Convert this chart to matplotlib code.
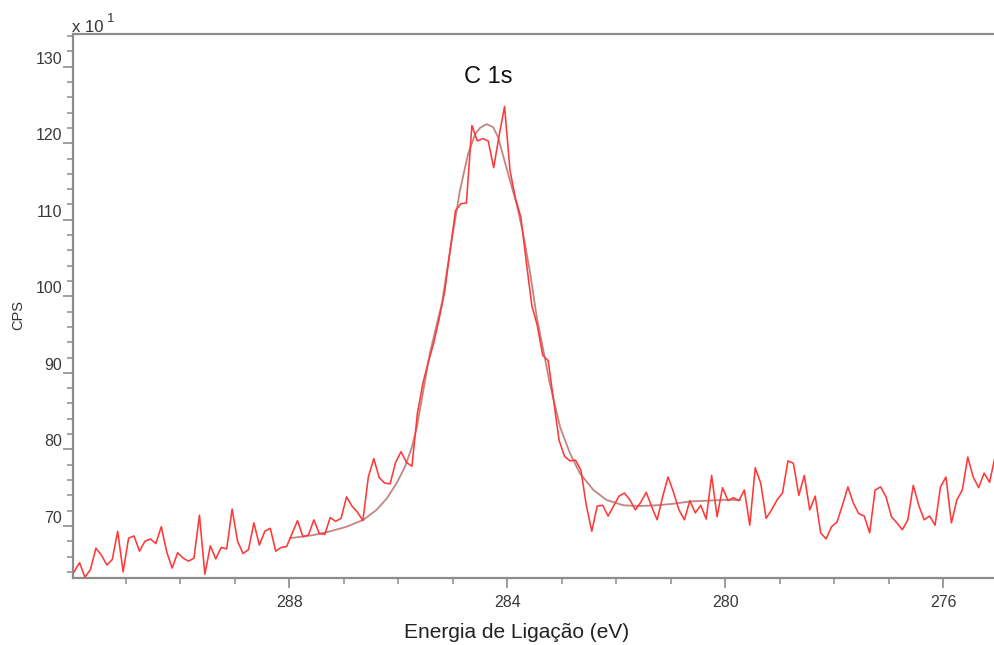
import numpy as np
import matplotlib
matplotlib.use("Agg")
import matplotlib.pyplot as plt
from matplotlib.ticker import MultipleLocator

plt.rcParams['font.family'] = ['Liberation Sans', 'DejaVu Sans']

# Binding energy grid: start and step of the acquired spectrum (eV)
energy_start = 291.95
energy_step = 0.1

# Measured counts (CPS x 10^1)
cps = [
    64.0, 65.2, 63.3, 64.3, 67.1, 66.2, 64.9, 65.6, 69.3, 64.0,
    68.4, 68.7, 66.7, 68.0, 68.3, 67.7, 69.9, 66.6, 64.5, 66.5,
    65.8, 65.4, 65.8, 71.4, 63.7, 67.4, 65.7, 67.2, 67.0, 72.2,
    68.0, 66.4, 66.9, 70.4, 67.5, 69.3, 69.7, 66.7, 67.2, 67.3,
    69.0, 70.7, 68.6, 68.8, 70.8, 69.0, 68.9, 71.1, 70.6, 71.0,
    73.8, 72.6, 71.8, 70.7, 76.4, 78.8, 76.3, 75.6, 75.5, 78.3,
    79.7, 78.3, 77.8, 84.7, 88.6, 91.4, 93.9, 97.1, 100.6, 106.0,
    111.2, 112.1, 112.2, 122.3, 120.3, 120.6, 120.3, 116.8, 121.0, 124.8,
    116.4, 112.8, 110.3, 104.4, 98.8, 96.2, 92.3, 91.6, 86.4, 81.2,
    79.1, 78.5, 78.6, 77.3, 72.7, 69.3, 72.6, 72.7, 71.3, 72.6,
    73.9, 74.3, 73.4, 72.1, 73.1, 74.4, 72.5, 70.8, 73.8, 76.4,
    74.4, 72.1, 70.8, 73.3, 71.7, 72.7, 70.9, 76.6, 71.2, 75.0,
    73.3, 73.7, 73.3, 74.7, 70.1, 77.6, 75.6, 71.0, 72.1, 73.4,
    74.3, 78.5, 78.2, 74.0, 76.6, 72.1, 73.9, 69.1, 68.3, 69.9,
    70.5, 72.7, 75.1, 73.0, 71.6, 71.3, 69.1, 74.7, 75.1, 73.8,
    71.2, 70.4, 69.5, 70.8, 75.3, 72.7, 70.8, 71.3, 70.1, 75.1,
    76.4, 70.4, 73.4, 74.7, 79.0, 76.4, 75.0, 76.9, 75.7, 79.0,
]
energy = [energy_start - energy_step * i for i in range(len(cps))]

# Fitted envelope (peak + background)
fit_energy = [287.99, 287.56, 287.25, 286.95, 286.64, 286.40, 286.21, 286.03,
              285.88, 285.75, 285.66, 285.57, 285.42, 285.20, 285.02, 284.87,
              284.72, 284.59, 284.50, 284.38, 284.26, 284.17, 284.07, 283.95,
              283.83, 283.71, 283.58, 283.46, 283.34, 283.22, 283.03, 282.85,
              282.67, 282.42, 282.18, 281.87, 281.57, 281.26, 280.95, 280.65,
              280.34, 280.04, 279.73]
fit_cps = [68.4, 68.8, 69.3, 69.9, 70.8, 72.1, 73.6, 75.6,
           77.7, 80.3, 82.9, 86.5, 92.6, 99.1, 107.3, 113.8,
           118.6, 121.2, 122.0, 122.5, 122.1, 120.8, 118.2, 115.1,
           112.1, 108.2, 103.0, 97.3, 93.0, 88.6, 82.9, 79.5,
           76.9, 74.7, 73.4, 72.7, 72.6, 72.7, 72.9, 73.2,
           73.3, 73.4, 73.4]

peak_label = "C 1s"
x_label = "Energia de Ligação (eV)"
y_label = "CPS"

W, H = 995, 645
fig = plt.figure(figsize=(W / 100, H / 100), dpi=100)
ax = fig.add_axes([73 / W, 1 - 578 / H, (W - 73) / W, (578 - 34.3) / H])

ax.plot(fit_energy, fit_cps, color='#c48484', lw=1.3, zorder=2)
ax.plot(energy, cps, color='#ff3838', lw=1.15, zorder=3)

ax.set_xlim(291.97, 275.05)
ax.set_ylim(63.2, 134.23)

ax.xaxis.set_major_locator(MultipleLocator(4))
ax.xaxis.set_minor_locator(MultipleLocator(1))
ax.yaxis.set_major_locator(MultipleLocator(10))
ax.yaxis.set_minor_locator(MultipleLocator(2))

spine_c = '#8c8c8c'
for s in ['left', 'top', 'bottom']:
    ax.spines[s].set_color(spine_c)
    ax.spines[s].set_linewidth(1.6)
ax.spines['right'].set_visible(False)

ax.tick_params(axis='both', which='major', direction='out', length=7, width=1.2,
               color=spine_c, labelcolor='#3a3a3a', labelsize=11.5)
ax.tick_params(axis='both', which='minor', direction='out', length=4, width=1.1,
               color=spine_c)
ax.tick_params(axis='y', which='major', pad=1)
ax.tick_params(axis='x', which='major', pad=5)
for lab in ax.get_yticklabels():
    lab.set_va('bottom')

ax.text(284.35, 128.65, peak_label, ha='center', va='center', fontsize=17, color='#111111')

fig.text(517 / W, 1 - 632 / H, x_label, ha='center', va='center', fontsize=15, color='#222222')
fig.text(18 / W, 1 - 315 / H, y_label, ha='center', va='center', rotation=90,
         fontsize=10.5, color='#333333')
fig.text(72 / W, 1 - 32 / H, "x 10", ha='left', va='baseline', fontsize=12, color='#333333')
fig.text(107 / W, 1 - 22 / H, "1", ha='left', va='baseline', fontsize=9.5, color='#333333')

fig.savefig("out.png", dpi=100)
